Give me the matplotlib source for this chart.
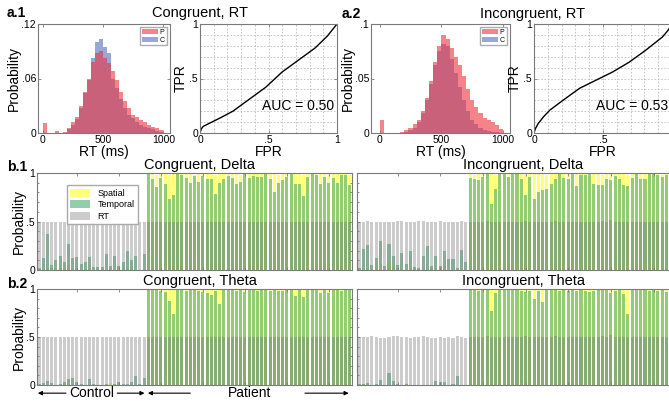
import numpy as np
import matplotlib
matplotlib.use('Agg')
import matplotlib.pyplot as plt

plt.rcParams['font.family'] = ['Liberation Sans', 'DejaVu Sans']

# ---- RT histograms (probability per 33 ms bin, 0..1000 ms) ----
rt_edges = np.linspace(0, 1000, 31)
cong_p = [0.011, 0, 0, 0.002, 0, 0.001, 0.006, 0.012, 0.018, 0.030,
          0.045, 0.058, 0.078, 0.088, 0.090, 0.083, 0.077, 0.068, 0.058, 0.045,
          0.035, 0.027, 0.020, 0.018, 0.014, 0.012, 0.009, 0.007, 0.005, 0.003]
cong_c = [0, 0, 0, 0, 0, 0, 0.004, 0.009, 0.015, 0.028,
          0.044, 0.060, 0.083, 0.100, 0.103, 0.095, 0.088, 0.060, 0.050, 0.037,
          0.028, 0.020, 0.016, 0.012, 0.009, 0.007, 0.005, 0.004, 0.002, 0.001]
incong_p = [0.012, 0, 0, 0, 0, 0.001, 0.003, 0.005, 0.008, 0.012,
            0.020, 0.032, 0.048, 0.065, 0.080, 0.090, 0.086, 0.078, 0.070, 0.062,
            0.052, 0.040, 0.030, 0.024, 0.018, 0.014, 0.012, 0.010, 0.007, 0.004]
incong_c = [0, 0, 0, 0, 0, 0, 0.001, 0.003, 0.005, 0.010,
            0.018, 0.030, 0.045, 0.062, 0.075, 0.082, 0.080, 0.068, 0.055, 0.042,
            0.030, 0.020, 0.012, 0.008, 0.005, 0.003, 0.002, 0.001, 0.001, 0]

# ---- ROC curves ----
roc1_fpr = [0, 0.01, 0.024, 0.07, 0.15, 0.24, 0.36, 0.48, 0.60, 0.72, 0.84, 0.93, 1.0]
roc1_tpr = [0, 0.04, 0.061, 0.09, 0.14, 0.20, 0.31, 0.42, 0.56, 0.67, 0.78, 0.89, 1.0]
roc2_fpr = [0, 0.01, 0.03, 0.07, 0.115, 0.21, 0.33, 0.45, 0.57, 0.69, 0.81, 0.93, 0.97, 1.0]
roc2_tpr = [0, 0.04, 0.086, 0.15, 0.21, 0.30, 0.41, 0.485, 0.56, 0.65, 0.76, 0.88, 0.94, 1.0]

# ---- per-subject classifier probabilities (26 control, 49 patient) ----
cd_ctrl_temporal = [0.02, 0.12, 0.37, 0.05, 0.10, 0.14, 0.08, 0.27, 0.12, 0.13, 0.06, 0.08, 0.13,
                    0.03, 0.03, 0.03, 0.16, 0.04, 0.14, 0.04, 0.08, 0.20, 0.10, 0.14, 0.00, 0.16]
cd_ctrl_spatial = [0.01, 0.0, 0.03, 0.0, 0.01, 0.02, 0.01, 0.05, 0.0, 0.01, 0.0, 0.01, 0.02,
                   0.0, 0.0, 0.01, 0.0, 0.0, 0.0, 0.04, 0.0, 0.01, 0.03, 0.0, 0.0, 0.0]
cd_ctrl_rt = [0.5, 0.5, 0.5, 0.5, 0.5, 0.5, 0.5, 0.5, 0.5, 0.5, 0.5, 0.5, 0.5,
              0.5, 0.5, 0.5, 0.5, 0.5, 0.5, 0.5, 0.5, 0.5, 0.5, 0.5, 0.5, 0.5]
cd_pat_temporal = [0.985, 0.94, 0.86, 0.95, 0.89, 0.73, 0.77, 0.99, 0.98, 0.95, 0.90, 0.97, 0.91,
                   0.97, 0.94, 0.94, 0.78, 0.90, 0.94, 0.97, 0.95, 0.89, 0.91, 0.99, 0.95, 0.97,
                   0.96, 0.96, 1.0, 0.94, 0.80, 0.90, 0.93, 0.96, 0.99, 0.89, 0.89, 0.76, 0.96,
                   0.99, 0.98, 0.89, 0.96, 0.90, 0.95, 0.90, 0.98, 0.98, 0.88]
cd_pat_spatial = [0.99, 0.99, 0.98, 1.0, 0.99, 0.98, 0.99, 1.0, 0.99, 0.99, 0.99, 0.98, 0.99,
                  0.99, 1.0, 0.99, 0.98, 0.99, 0.99, 1.0, 0.99, 0.99, 0.98, 1.0, 0.99, 0.99,
                  0.99, 0.99, 1.0, 0.99, 0.99, 0.98, 0.99, 0.99, 1.0, 0.99, 0.99, 0.98, 0.99,
                  1.0, 0.99, 0.99, 0.99, 0.98, 0.99, 0.99, 1.0, 0.99, 0.98]
cd_pat_rt = [0.5, 0.5, 0.5, 0.5, 0.5, 0.5, 0.5, 0.5, 0.5, 0.5, 0.5, 0.5, 0.5,
             0.5, 0.5, 0.5, 0.5, 0.5, 0.5, 0.5, 0.5, 0.5, 0.5, 0.5, 0.5, 0.5,
             0.5, 0.5, 0.5, 0.5, 0.5, 0.5, 0.5, 0.5, 0.5, 0.5, 0.5, 0.5, 0.5,
             0.5, 0.5, 0.5, 0.5, 0.5, 0.5, 0.5, 0.5, 0.5, 0.5]

id_ctrl_temporal = [0.02, 0.22, 0.26, 0.05, 0.12, 0.30, 0.04, 0.27, 0.14, 0.05, 0.18, 0.06, 0.20,
                    0.03, 0.02, 0.14, 0.25, 0.04, 0.14, 0.04, 0.20, 0.11, 0.11, 0.02, 0.21, 0.08]
id_ctrl_spatial = [0.02, 0.01, 0.02, 0.0, 0.03, 0.01, 0.0, 0.07, 0.04, 0.0, 0.02, 0.0, 0.03,
                   0.0, 0.01, 0.0, 0.0, 0.02, 0.0, 0.0, 0.05, 0.0, 0.0, 0.0, 0.01, 0.0]
id_ctrl_rt = [0.50, 0.50, 0.51, 0.50, 0.50, 0.49, 0.50, 0.49, 0.50, 0.51, 0.51, 0.50, 0.49,
              0.50, 0.51, 0.51, 0.49, 0.49, 0.50, 0.51, 0.50, 0.50, 0.49, 0.50, 0.51, 0.50]
id_pat_temporal = [0.95, 0.94, 0.93, 0.96, 0.99, 0.68, 0.84, 0.99, 0.99, 0.96, 0.99, 0.99, 0.94,
                   0.77, 0.96, 0.73, 0.80, 0.82, 0.84, 0.89, 0.94, 0.99, 0.95, 0.94, 0.99, 0.87,
                   0.98, 0.98, 0.99, 0.89, 0.88, 0.88, 0.94, 0.93, 0.97, 0.94, 0.88, 0.87, 0.95,
                   0.99, 0.94, 0.94, 0.99, 0.99, 0.98, 0.96, 0.98, 0.99, 0.98]
id_pat_spatial = [0.99, 0.98, 0.99, 1.0, 0.99, 0.99, 0.98, 1.0, 0.99, 0.99, 1.0, 0.99, 0.99,
                  0.98, 0.99, 1.0, 0.99, 0.99, 0.98, 0.99, 0.99, 1.0, 0.99, 0.99, 0.99, 0.99,
                  0.99, 0.99, 0.97, 0.99, 0.99, 0.98, 0.99, 0.99, 1.0, 0.99, 0.99, 0.98, 0.99,
                  0.99, 0.99, 0.99, 1.0, 0.99, 0.99, 0.98, 0.99, 1.0, 0.99]
id_pat_rt = [0.50, 0.50, 0.50, 0.50, 0.51, 0.50, 0.50, 0.50, 0.50, 0.50, 0.50, 0.50, 0.50,
             0.51, 0.50, 0.50, 0.50, 0.50, 0.50, 0.50, 0.51, 0.50, 0.50, 0.50, 0.50, 0.50,
             0.50, 0.50, 0.50, 0.50, 0.50, 0.51, 0.50, 0.52, 0.50, 0.50, 0.50, 0.50, 0.50,
             0.50, 0.50, 0.50, 0.50, 0.50, 0.50, 0.50, 0.50, 0.50, 0.50]

ct_ctrl_temporal = [0.01, 0.025, 0.045, 0.02, 0.005, 0.01, 0.03, 0.06, 0.07, 0.03, 0.01, 0.005, 0.06,
                    0.01, 0.005, 0.005, 0.01, 0.005, 0.01, 0.03, 0.01, 0.01, 0.03, 0.09, 0.01, 0.07]
ct_ctrl_spatial = [0.0, 0.0, 0.0, 0.0, 0.0, 0.0, 0.01, 0.0, 0.0, 0.0, 0.0, 0.0, 0.0,
                   0.0, 0.0, 0.0, 0.0, 0.02, 0.01, 0.0, 0.0, 0.0, 0.0, 0.0, 0.0, 0.0]
ct_ctrl_rt = [0.5, 0.5, 0.5, 0.5, 0.5, 0.5, 0.5, 0.5, 0.5, 0.5, 0.5, 0.5, 0.5,
              0.5, 0.5, 0.5, 0.5, 0.5, 0.5, 0.5, 0.5, 0.5, 0.5, 0.5, 0.5, 0.5]
ct_pat_temporal = [0.99, 0.99, 0.99, 0.98, 0.97, 0.88, 0.74, 0.99, 0.99, 0.98, 0.99, 0.99, 0.98,
                   0.97, 0.96, 0.94, 0.98, 0.84, 0.99, 0.99, 0.99, 0.98, 0.99, 0.97, 0.99, 0.99,
                   0.98, 0.99, 0.99, 0.98, 0.99, 0.98, 0.98, 0.99, 0.99, 0.93, 0.99, 0.92, 0.99,
                   0.99, 0.99, 0.96, 0.99, 0.96, 0.99, 0.99, 0.98, 0.99, 0.99]
ct_pat_spatial = [1.0, 1.0, 0.99, 1.0, 1.0, 0.99, 1.0, 1.0, 0.99, 1.0, 1.0, 1.0, 0.99,
                  1.0, 1.0, 1.0, 1.0, 0.99, 1.0, 1.0, 1.0, 1.0, 0.99, 1.0, 1.0, 1.0,
                  1.0, 1.0, 0.99, 1.0, 1.0, 1.0, 1.0, 1.0, 0.99, 1.0, 1.0, 1.0, 1.0,
                  1.0, 0.99, 1.0, 1.0, 1.0, 1.0, 1.0, 0.99, 1.0, 1.0]
ct_pat_rt = cd_pat_rt

it_ctrl_temporal = [0.01, 0.01, 0.02, 0.005, 0.01, 0.05, 0.005, 0.13, 0.045, 0.015, 0.005, 0.01, 0.005,
                    0.005, 0.005, 0.005, 0.005, 0.005, 0.045, 0.03, 0.03, 0.005, 0.01, 0.09, 0.005, 0.005]
it_ctrl_spatial = [0.0, 0.01, 0.0, 0.0, 0.0, 0.0, 0.0, 0.0, 0.0, 0.0, 0.0, 0.02, 0.0,
                   0.0, 0.0, 0.0, 0.0, 0.0, 0.0, 0.0, 0.0, 0.0, 0.0, 0.0, 0.0, 0.0]
it_ctrl_rt = [0.50, 0.50, 0.50, 0.51, 0.50, 0.49, 0.49, 0.50, 0.51, 0.51, 0.50, 0.50, 0.49,
              0.50, 0.50, 0.51, 0.50, 0.49, 0.49, 0.50, 0.49, 0.50, 0.49, 0.51, 0.50, 0.49]
it_pat_temporal = [0.99, 0.99, 0.98, 0.99, 0.99, 0.77, 0.96, 0.99, 0.99, 0.99, 0.99, 0.99, 0.98,
                   0.97, 0.98, 0.90, 0.98, 0.86, 0.99, 0.99, 0.99, 0.98, 0.99, 0.98, 0.99, 0.98,
                   0.99, 0.98, 0.97, 0.98, 0.99, 0.99, 0.99, 0.96, 0.98, 0.99, 0.95, 0.74, 0.99,
                   0.99, 0.99, 0.99, 0.98, 0.99, 0.98, 0.99, 0.97, 0.99, 0.99]
it_pat_spatial = ct_pat_spatial
it_pat_rt = id_pat_rt

GRAY_SPINE = '#7a7a7a'


def style_axes(ax):
    for s in ax.spines.values():
        s.set_color(GRAY_SPINE)
        s.set_linewidth(0.8)
    ax.tick_params(direction='in', length=2.5, width=0.6, labelsize=7.5, pad=1.5,
                   color=GRAY_SPINE, top=True, right=True)


def plot_hist(ax, p, c, ylim, yticks, yticklabels, xlim):
    centers = (rt_edges[:-1] + rt_edges[1:]) / 2
    ax.hist(centers, bins=rt_edges, weights=c, color=(0.31, 0.43, 0.75), alpha=0.6, label='C')
    ax.hist(centers, bins=rt_edges, weights=p, color=(0.93, 0.2, 0.24), alpha=0.6, label='P')
    ax.set_xlim(*xlim)
    ax.set_ylim(*ylim)
    ax.set_xticks([0, 500, 1000])
    ax.set_yticks(yticks)
    ax.set_yticklabels(yticklabels)
    ax.set_xlabel('RT (ms)', fontsize=10, labelpad=0)
    ax.set_ylabel('Probability', fontsize=10, labelpad=0)
    h, l = ax.get_legend_handles_labels()
    ax.legend(h[::-1], l[::-1], loc='upper right', fontsize=5, handlelength=2.4,
              handleheight=0.7, borderpad=0.25, labelspacing=0.05, handletextpad=0.2,
              fancybox=False, edgecolor='#999999', borderaxespad=0.5)
    style_axes(ax)


def plot_roc(ax, fpr, tpr, auc_text, xlabels):
    ax.plot(fpr, tpr, color='black', lw=1.0)
    ax.set_xlim(0, 1)
    ax.set_ylim(0, 1)
    ax.set_xticks([0, 0.5, 1])
    ax.set_xticklabels(xlabels)
    ax.set_yticks([0, 0.5, 1])
    ax.set_yticklabels(['0', '.5', '1'])
    ax.set_xticks(np.arange(0, 1.01, 0.1), minor=True)
    ax.set_yticks(np.arange(0, 1.01, 0.1), minor=True)
    ax.grid(True, which='both', ls=(0, (2, 2)), lw=0.6, color='#bdbdbd')
    ax.set_axisbelow(True)
    ax.set_xlabel('FPR', fontsize=10, labelpad=0)
    ax.set_ylabel('TPR', fontsize=10, labelpad=1)
    ax.text(0.45, 0.25, auc_text, transform=ax.transAxes, fontsize=10, va='center')
    style_axes(ax)
    ax.tick_params(which='minor', length=0)


def plot_bars(ax, ctrl, pat, show_labels, legend=False):
    rt = ctrl[0] + pat[0]
    temporal = ctrl[1] + pat[1]
    spatial = ctrl[2] + pat[2]
    x = np.arange(1, len(rt) + 1)
    w = 0.72
    ax.bar(x, spatial, width=w, color=(1.0, 1.0, 0.3), alpha=0.75, label='Spatial')
    ax.bar(x, temporal, width=w, color=(0.24, 0.64, 0.42), alpha=0.55, label='Temporal')
    ax.bar(x, rt, width=w, color=(0.45, 0.45, 0.45), alpha=0.36, label='RT')
    ax.set_xlim(0.5, len(rt) + 0.5)
    ax.set_ylim(0, 1)
    ax.set_xticks(np.arange(10, len(rt), 10))
    ax.set_yticks([0, 0.5, 1])
    ax.set_yticks(np.arange(0, 1.01, 0.1), minor=True)
    style_axes(ax)
    ax.tick_params(which='minor', direction='in', length=1.5, color=GRAY_SPINE, right=True)
    ax.tick_params(axis='x', labelbottom=False)
    if show_labels:
        ax.set_yticklabels(['0', '.5', '1'])
        ax.set_ylabel('Probability', fontsize=10, labelpad=0)
    else:
        ax.tick_params(axis='y', labelleft=False)
    if legend:
        ax.legend(loc='upper left', bbox_to_anchor=(0.08, 0.92), fontsize=6.5,
                  handlelength=2.2, handleheight=1.0, borderpad=0.4, labelspacing=0.25,
                  fancybox=False, edgecolor='#aaaaaa', framealpha=1)


W, H = 669, 405
fig = plt.figure(figsize=(W / 100, H / 100), dpi=100)


def box(l, t, r, b):
    return [l / W, 1 - b / H, (r - l) / W, (b - t) / H]


ax_h1 = fig.add_axes(box(38, 24, 170, 133))
ax_r1 = fig.add_axes(box(200, 24, 337, 133))
ax_h2 = fig.add_axes(box(371, 24, 510, 133))
ax_r2 = fig.add_axes(box(534, 24, 672, 133))
ax_b1l = fig.add_axes(box(37, 173, 352, 270))
ax_b1r = fig.add_axes(box(357, 173, 677, 270))
ax_b2l = fig.add_axes(box(37, 289, 352, 385))
ax_b2r = fig.add_axes(box(357, 289, 677, 385))

plot_hist(ax_h1, cong_p, cong_c, (0, 0.12), [0, 0.06, 0.12], ['0', '.06', '.12'], (-40, 1055))
plot_roc(ax_r1, roc1_fpr, roc1_tpr, 'AUC = 0.50', ['0', '.5', '1'])
plot_hist(ax_h2, incong_p, incong_c, (0, 0.1), [0, 0.05, 0.1], ['0', '.05', '.1'], (-70, 1055))
plot_roc(ax_r2, roc2_fpr, roc2_tpr, 'AUC = 0.53', ['0', '.5', ''])

plot_bars(ax_b1l, (cd_ctrl_rt, cd_ctrl_temporal, cd_ctrl_spatial),
          (cd_pat_rt, cd_pat_temporal, cd_pat_spatial), True, legend=True)
plot_bars(ax_b1r, (id_ctrl_rt, id_ctrl_temporal, id_ctrl_spatial),
          (id_pat_rt, id_pat_temporal, id_pat_spatial), False)
plot_bars(ax_b2l, (ct_ctrl_rt, ct_ctrl_temporal, ct_ctrl_spatial),
          (ct_pat_rt, ct_pat_temporal, ct_pat_spatial), True)
plot_bars(ax_b2r, (it_ctrl_rt, it_ctrl_temporal, it_ctrl_spatial),
          (it_pat_rt, it_pat_temporal, it_pat_spatial), False)

# titles and panel labels
def ftext(x, y, s, **kw):
    fig.text(x / W, 1 - y / H, s, va='center', **kw)

ftext(200, 13, 'Congruent, RT', ha='center', fontsize=10.5)
ftext(533, 14, 'Incongruent, RT', ha='center', fontsize=10.5)
ftext(200, 165, 'Congruent, Delta', ha='center', fontsize=10.5)
ftext(523, 165, 'Incongruent, Delta', ha='center', fontsize=10.5)
ftext(200, 281, 'Congruent, Theta', ha='center', fontsize=10.5)
ftext(523, 281, 'Incongruent, Theta', ha='center', fontsize=10.5)
ftext(7, 13, 'a.1', ha='left', fontsize=10, fontweight='bold')
ftext(342, 14, 'a.2', ha='left', fontsize=10, fontweight='bold')
ftext(7, 167, 'b.1', ha='left', fontsize=10, fontweight='bold')
ftext(7, 284, 'b.2', ha='left', fontsize=10, fontweight='bold')

# group arrows under b.2
n_ctrl = len(ct_ctrl_rt)
n_all = n_ctrl + len(ct_pat_rt)
yy = -0.085
tr = ax_b2l.get_xaxis_transform()
arrow = dict(arrowstyle='-|>', color='black', lw=0.8, mutation_scale=6, shrinkA=0, shrinkB=0)
ax_b2l.text(13.6, yy, 'Control', transform=tr, ha='center', va='center', fontsize=10)
ax_b2l.annotate('', xy=(0.7, yy), xytext=(7.4, yy), xycoords=tr, textcoords=tr, arrowprops=arrow,
                annotation_clip=False)
ax_b2l.annotate('', xy=(n_ctrl + 0.1, yy), xytext=(19.6, yy), xycoords=tr, textcoords=tr,
                arrowprops=arrow, annotation_clip=False)
ax_b2l.text(51.2, yy, 'Patient', transform=tr, ha='center', va='center', fontsize=10)
ax_b2l.annotate('', xy=(n_ctrl + 0.9, yy), xytext=(37.0, yy), xycoords=tr, textcoords=tr,
                arrowprops=arrow, annotation_clip=False)
ax_b2l.annotate('', xy=(n_all - 0.3, yy), xytext=(64.3, yy), xycoords=tr, textcoords=tr,
                arrowprops=arrow, annotation_clip=False)

fig.savefig('out.png', dpi=100)
